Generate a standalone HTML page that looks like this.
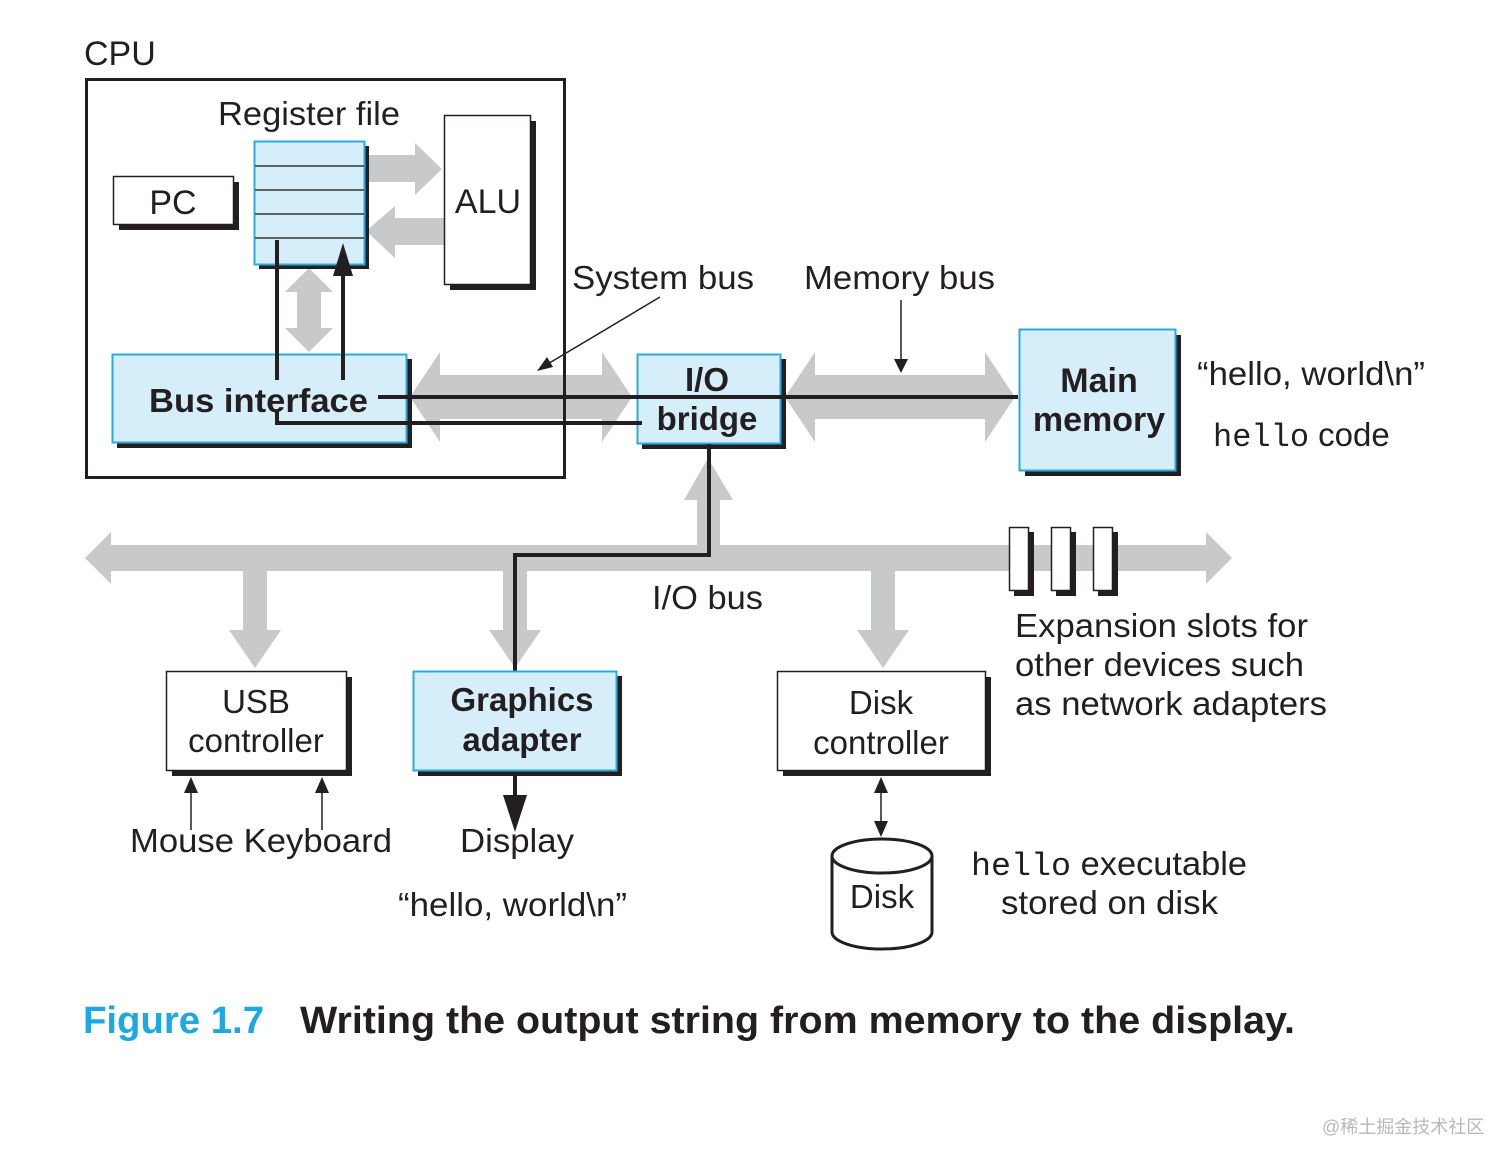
<!DOCTYPE html>
<html><head><meta charset="utf-8"><style>
html,body{margin:0;padding:0;background:#fff;}
svg{display:block;}
text{font-family:"Liberation Sans",Arial,sans-serif;fill:#231f20;}
.b{font-weight:bold;}
.m{font-family:"Liberation Mono",monospace;}
</style></head><body>
<svg width="1512" height="1166" viewBox="0 0 1512 1166" xmlns="http://www.w3.org/2000/svg">
<g fill="#c8c9cb">
<polygon points="410,397 440,352 440,375 602,375 602,352 632,397 602,442 602,419 440,419 440,442"/>
<polygon points="785,397 815,352 815,375 985,375 985,352 1015,397 985,442 985,419 815,419 815,442"/>
<polygon points="85,558 111,532 111,545 1206,545 1206,532 1232,558 1206,584 1206,571 111,571 111,584"/>
<polygon points="697,545 697,500 684,500 708,458 733,500 720,500 720,545"/>
<polygon points="243,571 243,630 229,630 255,668 281,630 267,630 267,571"/>
<polygon points="503,571 503,630 489,630 515,668 541,630 527,630 527,571"/>
<polygon points="871,571 871,630 857,630 883,668 909,630 895,630 895,571"/>
<polygon points="366,155 415,155 415,143 442,169 415,195 415,182 366,182"/>
<polygon points="444,218 395,218 395,206 366,231 395,258 395,245 444,245"/>
<polygon points="309,268 333,292 321,292 321,328 333,328 309,352 285,328 297,328 297,292 285,292"/>
</g>
<text x="84" y="65" font-size="34">CPU</text>
<rect x="86.5" y="79.5" width="478" height="398" fill="none" stroke="#231f20" stroke-width="3"/>
<text x="218" y="125" font-size="33" textLength="182" lengthAdjust="spacingAndGlyphs">Register file</text>
<rect x="119" y="182" width="120" height="48" fill="#231f20"/>
<rect x="113.5" y="176.5" width="120" height="48" fill="#fff" stroke="#231f20" stroke-width="1.5"/>
<text x="173" y="214" font-size="34" text-anchor="middle">PC</text>
<rect x="259" y="146" width="110" height="123" fill="#231f20"/>
<rect x="254.5" y="141.5" width="110" height="123" fill="#d6eefa" stroke="#29abe2" stroke-width="2"/>
<g stroke="#333" stroke-width="1.5"><line x1="255" y1="166" x2="364" y2="166"/><line x1="255" y1="190" x2="364" y2="190"/><line x1="255" y1="214" x2="364" y2="214"/><line x1="255" y1="238" x2="364" y2="238"/></g>
<rect x="450" y="121" width="86" height="169" fill="#231f20"/>
<rect x="444.5" y="115.5" width="86" height="169" fill="#fff" stroke="#231f20" stroke-width="1.5"/>
<text x="488" y="213" font-size="34" text-anchor="middle">ALU</text>
<rect x="117" y="359" width="295" height="89" fill="#231f20"/>
<rect x="112.5" y="354.5" width="294" height="88" fill="#d6eefa" stroke="#29abe2" stroke-width="2"/>
<text x="149" y="412" font-size="33" class="b" textLength="219" lengthAdjust="spacingAndGlyphs">Bus interface</text>
<rect x="642" y="359" width="144" height="90" fill="#231f20"/>
<rect x="637.5" y="354.5" width="143" height="89" fill="#d6eefa" stroke="#29abe2" stroke-width="2"/>
<text x="707" y="391" font-size="33" class="b" text-anchor="middle">I/O</text>
<text x="707" y="430" font-size="33" class="b" text-anchor="middle">bridge</text>
<rect x="1025" y="335" width="156" height="141" fill="#231f20"/>
<rect x="1019.5" y="329.5" width="156" height="141" fill="#d6eefa" stroke="#29abe2" stroke-width="2"/>
<text x="1099" y="392" font-size="34" class="b" text-anchor="middle">Main</text>
<text x="1099" y="431" font-size="34" class="b" text-anchor="middle">memory</text>
<g stroke="#231f20" stroke-width="4" fill="none">
<line x1="277" y1="240" x2="277" y2="380"/>
<line x1="343" y1="275" x2="343" y2="380"/>
<line x1="378" y1="397" x2="1018" y2="397"/>
<polyline points="277,410 277,423 642,423"/>
<polyline points="709,444 709,555 515,555 515,680"/>
<line x1="515" y1="770" x2="515" y2="800"/>
</g>
<polygon points="333,276 343,243 353,276" fill="#231f20"/>
<polygon points="503,795 515,832 527,795" fill="#231f20"/>
<text x="572" y="289" font-size="33" textLength="182" lengthAdjust="spacingAndGlyphs">System bus</text>
<line x1="660" y1="297" x2="546" y2="365" stroke="#231f20" stroke-width="1.5"/>
<polygon points="537,371 547,357 553,367" fill="#231f20"/>
<text x="804" y="289" font-size="33" textLength="191" lengthAdjust="spacingAndGlyphs">Memory bus</text>
<line x1="901" y1="300" x2="901" y2="360" stroke="#231f20" stroke-width="1.5"/>
<polygon points="894,359 901,373 908,359" fill="#231f20"/>
<text x="1197" y="385" font-size="33" textLength="228" lengthAdjust="spacingAndGlyphs">“hello, world\n”</text>
<text x="1213" y="446" font-size="33"><tspan class="m" font-size="32">hello</tspan> code</text>
<text x="652" y="609" font-size="33" textLength="111" lengthAdjust="spacingAndGlyphs">I/O bus</text>
<g fill="#231f20"><rect x="1014" y="532" width="20" height="64"/><rect x="1056" y="532" width="20" height="64"/><rect x="1098" y="532" width="20" height="64"/></g>
<g fill="#fff" stroke="#231f20" stroke-width="1.5"><rect x="1009.5" y="527.5" width="19" height="63"/><rect x="1051.5" y="527.5" width="19" height="63"/><rect x="1093.5" y="527.5" width="19" height="63"/></g>
<text font-size="33" x="1015" y="637" textLength="293" lengthAdjust="spacingAndGlyphs">Expansion slots for</text>
<text font-size="33" x="1015" y="676" textLength="289" lengthAdjust="spacingAndGlyphs">other devices such</text>
<text font-size="33" x="1015" y="715" textLength="312" lengthAdjust="spacingAndGlyphs">as network adapters</text>
<rect x="172" y="677" width="180" height="99" fill="#231f20"/>
<rect x="166.5" y="671.5" width="180" height="99" fill="#fff" stroke="#231f20" stroke-width="1.5"/>
<text x="256" y="713" font-size="33" text-anchor="middle">USB</text>
<text x="256" y="752" font-size="33" text-anchor="middle">controller</text>
<rect x="418" y="676" width="204" height="100" fill="#231f20"/>
<rect x="413.5" y="671.5" width="203" height="99" fill="#d6eefa" stroke="#29abe2" stroke-width="2"/>
<text x="522" y="711" font-size="33" class="b" text-anchor="middle">Graphics</text>
<text x="522" y="751" font-size="33" class="b" text-anchor="middle">adapter</text>
<rect x="783" y="677" width="208" height="99" fill="#231f20"/>
<rect x="777.5" y="671.5" width="208" height="99" fill="#fff" stroke="#231f20" stroke-width="1.5"/>
<text x="881" y="714" font-size="33" text-anchor="middle">Disk</text>
<text x="881" y="754" font-size="33" text-anchor="middle">controller</text>
<g stroke="#231f20" stroke-width="1.5"><line x1="191" y1="790" x2="191" y2="830"/><line x1="322" y1="790" x2="322" y2="830"/><line x1="881" y1="790" x2="881" y2="824"/></g>
<g fill="#231f20"><polygon points="184,793 191,777 198,793"/><polygon points="315,793 322,777 329,793"/><polygon points="874,793 881,777 888,793"/><polygon points="874,821 881,837 888,821"/></g>
<text x="130" y="852" font-size="33" textLength="262" lengthAdjust="spacingAndGlyphs">Mouse Keyboard</text>
<text x="460" y="852" font-size="33" textLength="114" lengthAdjust="spacingAndGlyphs">Display</text>
<text x="398" y="916" font-size="33" textLength="229" lengthAdjust="spacingAndGlyphs">“hello, world\n”</text>
<path d="M832,856 L832,932 A50,17 0 0 0 932,932 L932,856" fill="#fff" stroke="#231f20" stroke-width="3"/>
<ellipse cx="882" cy="856" rx="50" ry="17" fill="#fff" stroke="#231f20" stroke-width="3"/>
<text x="882" y="908" font-size="33" text-anchor="middle">Disk</text>
<text x="971" y="875" font-size="33" textLength="276" lengthAdjust="spacingAndGlyphs"><tspan class="m" font-size="32">hello</tspan> executable</text>
<text x="1001" y="914" font-size="33" textLength="217" lengthAdjust="spacingAndGlyphs">stored on disk</text>
<text x="83" y="1033" font-size="38" class="b" style="fill:#1ea8e0" textLength="181" lengthAdjust="spacingAndGlyphs">Figure 1.7</text>
<text x="300" y="1033" font-size="38" class="b" textLength="995" lengthAdjust="spacingAndGlyphs">Writing the output string from memory to the display.</text>
<text x="1322" y="1133" font-size="18" style="fill:#b8b8b8;font-family:'Liberation Sans','Noto Sans CJK SC',sans-serif">@稀土掘金技术社区</text>
</svg>
</body></html>
